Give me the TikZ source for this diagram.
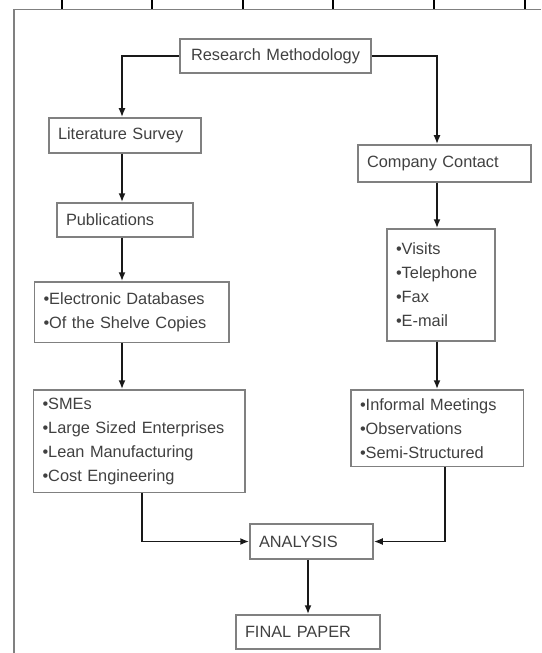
\documentclass[tikz,border=0pt]{standalone}
\usepackage{fontspec}
\setmainfont{Liberation Sans}
\usetikzlibrary{arrows.meta}
\begin{document}
\begin{tikzpicture}
	[box/.style={draw=black!50,line width=0.85pt,inner xsep=0.18cm,inner ysep=0pt,align=left,text=black!75,font=\fontsize{9.3}{13.7}\selectfont},
	arr/.style={-{Latex[length=0.18cm,width=0.14cm]},line width=1.1pt,draw=black!90}]
	\useasboundingbox (0,0) rectangle (10.82,-13.06);
	% frame and ticks
	\draw[black!50,line width=0.85pt] (10.82,-0.186) -- (0.276,-0.186) -- (0.276,-13.06);
	\foreach \x in {1.24,3.04,4.86,6.66,8.68,10.5}
		\draw[line width=0.85pt] (\x,0) -- (\x,-0.186);
	% boxes
	\node[box,align=center,text width=3.46cm,minimum height=0.68cm] (meth) at (5.51,-1.12) {Research Methodology};
	\node[box,text width=2.68cm,minimum height=0.70cm] (lit) at (2.50,-2.71) {Literature Survey};
	\node[box,text width=2.36cm,minimum height=0.68cm] (pub) at (2.50,-4.40) {Publications};
	\node[box,text width=3.53cm,minimum height=1.21cm] (elec) at (2.635,-6.245) {•Electronic Databases\\•Of the Shelve Copies};
	\node[box,text width=3.87cm,minimum height=2.05cm] (sme) at (2.785,-8.825) {•SMEs\\•Large Sized Enterprises\\•Lean Manufacturing\\•Cost Engineering};
	\node[box,text width=3.10cm,minimum height=0.74cm] (comp) at (8.89,-3.27) {Company Contact};
	\node[box,text width=1.80cm,minimum height=2.24cm] (visit) at (8.82,-5.70) {•Visits\\•Telephone\\•Fax\\•E-mail};
	\node[box,text width=3.09cm,minimum height=1.53cm] (meet) at (8.745,-8.565) {•Informal Meetings\\•Observations\\•Semi-Structured};
	\node[box,text width=2.10cm,minimum height=0.70cm] (analysis) at (6.23,-10.83) {ANALYSIS};
	\node[box,text width=2.52cm,minimum height=0.68cm] (final) at (6.16,-12.64) {FINAL PAPER};
	% arrows
	\coordinate (lx) at (2.44,0);
	\coordinate (rx) at (8.74,0);
	\draw[arr] (meth.west) -| (lx |- lit.north);
	\draw[arr] (meth.east) -| (rx |- comp.north);
	\draw[arr] (lx |- lit.south) -- (lx |- pub.north);
	\draw[arr] (lx |- pub.south) -- (lx |- elec.north);
	\draw[arr] (lx |- elec.south) -- (lx |- sme.north);
	\draw[arr] (rx |- comp.south) -- (rx |- visit.north);
	\draw[arr] (rx |- visit.south) -- (rx |- meet.north);
	\draw[arr] ([xshift=0.06cm]sme.south) |- (analysis.west);
	\draw[arr] ([xshift=0.155cm]meet.south) |- (analysis.east);
	\draw[arr] (analysis.south -| final.north) -- (final.north);
\end{tikzpicture}
\end{document}
